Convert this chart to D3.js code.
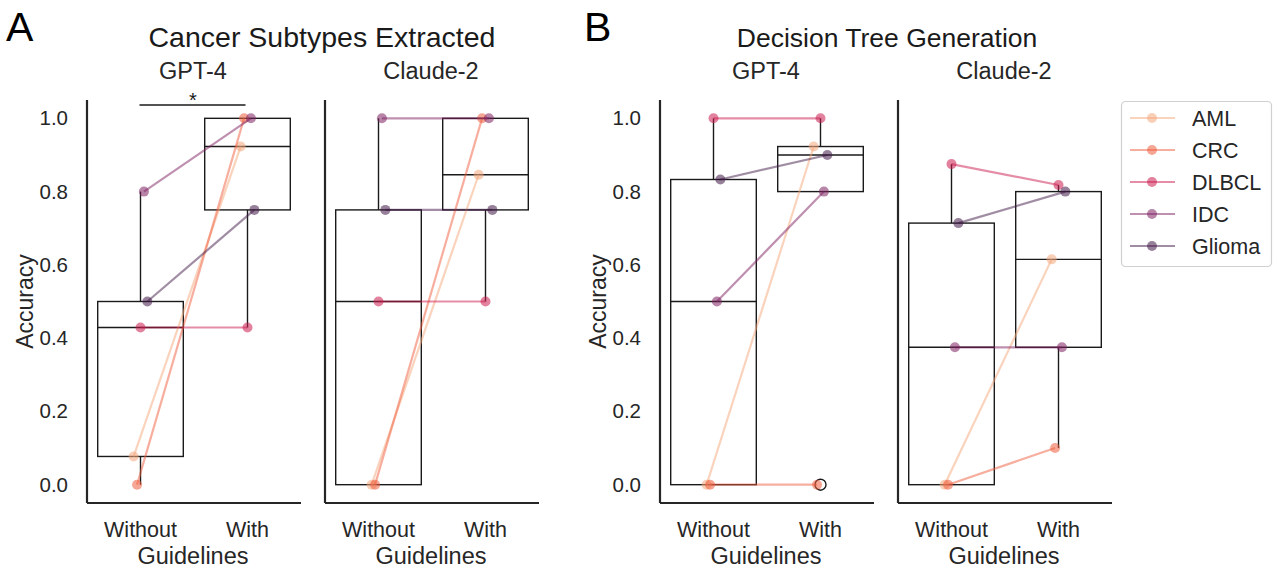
<!DOCTYPE html>
<html>
<head>
<meta charset="utf-8">
<script src="https://cdn.jsdelivr.net/npm/d3@7"></script>
<style>
  body { margin: 0; background: #fff; }
  svg { font-family: "Liberation Sans", Arial, sans-serif; }
</style>
</head>
<body>
<script>
//data (order follows subtypes)
var subtypes = ["AML", "CRC", "DLBCL", "IDC", "Glioma"];
var conditions = ["Without", "With"];
var models = ["GPT-4", "Claude-2"];
var yTicks = [0.0, 0.2, 0.4, 0.6, 0.8, 1.0];
var colors = ["#f5a87c", "#ef5d3d", "#cb1b4f", "#7e2060", "#421a47"];

var extractGpt4Without = [0.077, 0.0, 0.429, 0.8, 0.5];
var extractGpt4With = [0.923, 1.0, 0.429, 1.0, 0.75];
var extractClaudeWithout = [0.0, 0.0, 0.5, 1.0, 0.75];
var extractClaudeWith = [0.846, 1.0, 0.5, 1.0, 0.75];
var treeGpt4Without = [0.0, 0.0, 1.0, 0.5, 0.833];
var treeGpt4With = [0.923, 0.0, 1.0, 0.8, 0.9];
var treeClaudeWithout = [0.0, 0.0, 0.875, 0.375, 0.714];
var treeClaudeWith = [0.615, 0.1, 0.818, 0.375, 0.8];

(function all(){
  var width = 1280, height = 571;
  var svg = d3.select("body").append("svg")
    .attr("width", width).attr("height", height);

  //one entry per subplot
  var panels = [
    {x0: 87,  x1: 301,  model: models[0], without: extractGpt4Without, with: extractGpt4With, ylabel: true, star: true},
    {x0: 325, x1: 539,  model: models[1], without: extractClaudeWithout, with: extractClaudeWith},
    {x0: 660, x1: 874,  model: models[0], without: treeGpt4Without, with: treeGpt4With, ylabel: true},
    {x0: 898, x1: 1112, model: models[1], without: treeClaudeWithout, with: treeClaudeWith}
  ];

  var yTop = 100, yBottom = 503;
  var y = d3.scaleLinear().domain([-0.05, 1.05]).range([yBottom, yTop]);

  //figure letters and group titles
  svg.append("text").attr("x", 6).attr("y", 41).attr("font-size", 41).text("A");
  svg.append("text").attr("x", 584).attr("y", 41).attr("font-size", 41).text("B");
  svg.append("text").attr("x", 322).attr("y", 47).attr("text-anchor", "middle")
    .attr("font-size", 28.5).attr("fill", "#1a1a1a").text("Cancer Subtypes Extracted");
  svg.append("text").attr("x", 887).attr("y", 47).attr("text-anchor", "middle")
    .attr("font-size", 26.5).attr("fill", "#1a1a1a").text("Decision Tree Generation");

  panels.forEach(function(p){
    var g = svg.append("g");
    var x = d3.scaleBand().domain(conditions).range([p.x0, p.x1]).padding(0);
    var bw = x.bandwidth();
    var cx = function(c){ return x(c) + bw / 2; };
    var dodge = bw * 0.032;

    //subplot title
    g.append("text").attr("x", (p.x0 + p.x1) / 2 - 1).attr("y", 79)
      .attr("text-anchor", "middle").attr("font-size", 23.5).attr("fill", "#262626")
      .text(p.model);

    //boxes (no fill, black edges)
    var series = {Without: p.without, With: p.with};
    conditions.forEach(function(c){
      var vals = series[c].slice().sort(d3.ascending);
      var q1 = d3.quantile(vals, 0.25), med = d3.quantile(vals, 0.5), q3 = d3.quantile(vals, 0.75);
      var iqr = q3 - q1;
      var inside = vals.filter(function(v){ return v >= q1 - 1.5 * iqr && v <= q3 + 1.5 * iqr; });
      var lo = d3.min(inside), hi = d3.max(inside);
      var outliers = vals.filter(function(v){ return v < lo || v > hi; });
      var bx = cx(c) - bw * 0.4, bwid = bw * 0.8;
      var box = g.append("g").attr("stroke", "#1a1a1a").attr("stroke-width", 1.4).attr("fill", "none");
      box.append("line").attr("x1", cx(c)).attr("x2", cx(c)).attr("y1", y(lo)).attr("y2", y(q1));
      box.append("line").attr("x1", cx(c)).attr("x2", cx(c)).attr("y1", y(q3)).attr("y2", y(hi));
      box.append("rect").attr("x", bx).attr("y", y(q3)).attr("width", bwid).attr("height", y(q1) - y(q3));
      box.append("line").attr("x1", bx).attr("x2", bx + bwid).attr("y1", y(med)).attr("y2", y(med));
      outliers.forEach(function(v){
        box.append("circle").attr("cx", cx(c)).attr("cy", y(v)).attr("r", 5.5);
      });
    });

    //paired lines per subtype
    subtypes.forEach(function(s, i){
      var off = (i - 2) * dodge;
      var pts = conditions.map(function(c){ return [cx(c) + off, y(series[c][i])]; });
      g.append("line")
        .attr("x1", pts[0][0]).attr("y1", pts[0][1])
        .attr("x2", pts[1][0]).attr("y2", pts[1][1])
        .attr("stroke", colors[i]).attr("stroke-width", 2.2).attr("stroke-opacity", 0.5);
      g.selectAll(null).data(pts).enter().append("circle")
        .attr("cx", function(d){ return d[0]; })
        .attr("cy", function(d){ return d[1]; })
        .attr("r", 5)
        .attr("fill", colors[i]).attr("fill-opacity", 0.55);
    });

    //axes: left and bottom spines only
    var yAxis = d3.axisLeft(y).tickValues(p.ylabel ? yTicks : []).tickSize(0).tickPadding(19)
      .tickFormat(d3.format(".1f"));
    var ya = g.append("g").attr("transform", "translate(" + p.x0 + ",0)").call(yAxis);
    ya.select(".domain").attr("stroke", "#262626").attr("stroke-width", 2.2)
      .attr("d", "M0," + yTop + "V" + yBottom);
    ya.selectAll("text").attr("font-size", 20.5).attr("fill", "#262626")
      .attr("font-family", "Liberation Sans, Arial, sans-serif");

    var xAxis = d3.axisBottom(x).tickSize(0).tickPadding(18.5);
    var xa = g.append("g").attr("transform", "translate(0," + yBottom + ")").call(xAxis);
    xa.select(".domain").attr("stroke", "#262626").attr("stroke-width", 2.2)
      .attr("d", "M" + p.x0 + ",0H" + p.x1);
    xa.selectAll("text").attr("font-size", 21.5).attr("fill", "#262626")
      .attr("font-family", "Liberation Sans, Arial, sans-serif");

    g.append("text").attr("x", (p.x0 + p.x1) / 2 - 1).attr("y", 564)
      .attr("text-anchor", "middle").attr("font-size", 23.5).attr("fill", "#262626")
      .text("Guidelines");

    if (p.ylabel) {
      g.append("text")
        .attr("transform", "translate(" + (p.x0 - 54) + "," + y(0.5) + ") rotate(-90)")
        .attr("text-anchor", "middle").attr("font-size", 23).attr("fill", "#262626")
        .text("Accuracy");
    }

    //significance bracket
    if (p.star) {
      g.append("line").attr("x1", cx("Without") - 1).attr("x2", cx("With") - 2)
        .attr("y1", 105).attr("y2", 105).attr("stroke", "#1a1a1a").attr("stroke-width", 1.4);
      g.append("text").attr("x", (cx("Without") + cx("With")) / 2 - 1).attr("y", 107)
        .attr("text-anchor", "middle").attr("font-size", 20).attr("fill", "#1a1a1a").text("*");
    }
  });

  //legend
  var lg = svg.append("g");
  lg.append("rect").attr("x", 1121.5).attr("y", 101.5).attr("width", 150).attr("height", 165)
    .attr("rx", 4).attr("fill", "#fff").attr("stroke", "#d0d0d0").attr("stroke-width", 1.2);
  subtypes.forEach(function(s, i){
    var ly = 118 + i * 32;
    lg.append("line").attr("x1", 1130).attr("x2", 1175).attr("y1", ly).attr("y2", ly)
      .attr("stroke", colors[i]).attr("stroke-width", 2.2).attr("stroke-opacity", 0.5);
    lg.append("circle").attr("cx", 1152).attr("cy", ly).attr("r", 5)
      .attr("fill", colors[i]).attr("fill-opacity", 0.55);
    lg.append("text").attr("x", 1192).attr("y", ly + 7.5).attr("font-size", 21.5)
      .attr("fill", "#262626").text(s);
  });
})();
</script>
</body>
</html>
